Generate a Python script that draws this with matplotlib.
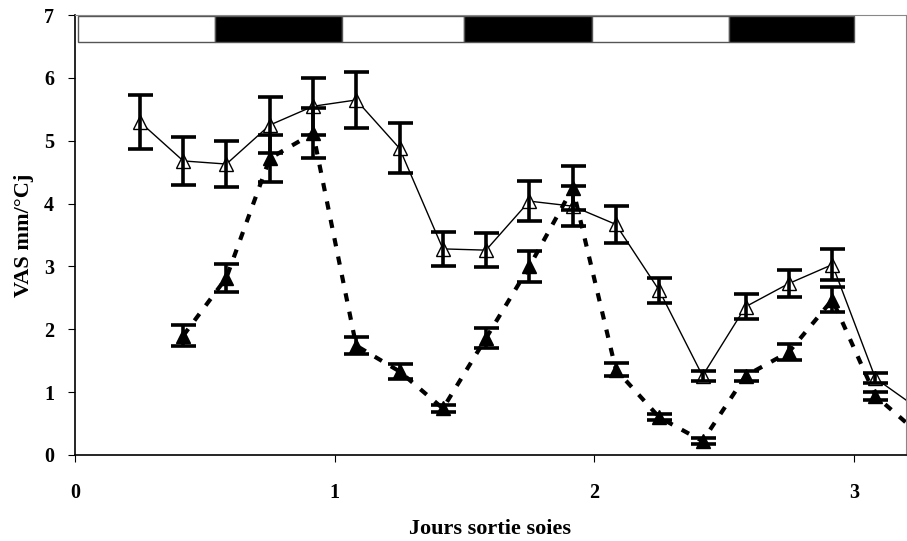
import numpy as np
import matplotlib.pyplot as plt
from matplotlib.patches import Rectangle

# days after silk emergence
jours = [0.25, 0.417, 0.583, 0.75, 0.917, 1.083, 1.25, 1.417, 1.583,
         1.75, 1.917, 2.083, 2.25, 2.417, 2.583, 2.75, 2.917, 3.083, 3.25]

# open triangles (solid line)
vas_open = [5.3, 4.68, 4.63, 5.25, 5.55, 5.65, 4.88, 3.28, 3.26,
            4.04, 3.96, 3.67, 2.62, 1.26, 2.36, 2.73, 3.03, 1.22, 0.73]
err_open = [0.43, 0.38, 0.37, 0.45, 0.45, 0.45, 0.4, 0.27, 0.27,
            0.32, 0.32, 0.3, 0.2, 0.08, 0.2, 0.21, 0.25, 0.08, 0.0]

# filled triangles (dashed line), starts at the second time
jours_fill = jours[1:]
vas_fill = [1.9, 2.82, 4.72, 5.12, 1.74, 1.33, 0.74, 1.86, 3.0,
            4.25, 1.36, 0.6, 0.22, 1.26, 1.64, 2.47, 0.94, 0.34]
err_fill = [0.17, 0.22, 0.38, 0.4, 0.13, 0.12, 0.05, 0.16, 0.24,
            0.35, 0.11, 0.05, 0.05, 0.08, 0.13, 0.2, 0.06, 0.0]

# day / night bar at top
periodes = [0.012, 0.54, 1.03, 1.5, 1.99, 2.52, 3.0]
couleurs = ["white", "black", "white", "black", "white", "black"]

plt.rcParams["font.family"] = ["Liberation Serif", "DejaVu Serif"]
plt.rcParams["font.weight"] = "bold"

fig = plt.figure(figsize=(9.07, 5.41), dpi=100)
ax = fig.add_axes([0.0827, 0.159, 0.916, 0.813])

# lines + markers
ax.plot(jours, vas_open, color="black", linewidth=1, marker="^",
        markersize=10, markerfacecolor="white", markeredgecolor="black",
        markeredgewidth=1, zorder=3)
ax.plot(jours_fill, vas_fill, color="black", linewidth=3,
        linestyle=(0, (2, 2.5)), marker="^", markersize=10,
        markerfacecolor="black", markeredgecolor="black", zorder=4)

# error bars
ax.errorbar(jours, vas_open, yerr=err_open, fmt="none", ecolor="black",
            elinewidth=2.6, capsize=9, capthick=2.6, zorder=3)
ax.errorbar(jours_fill, vas_fill, yerr=err_fill, fmt="none", ecolor="black",
            elinewidth=2.6, capsize=9, capthick=2.6, zorder=4)

for i in range(len(couleurs)):
    ax.add_patch(Rectangle((periodes[i], 6.57), periodes[i + 1] - periodes[i], 0.41,
                           facecolor=couleurs[i], edgecolor="#555555", lw=1,
                           zorder=2))

ax.set_xlim(0, 3.2)
ax.set_ylim(0, 7)
ax.set_xticks([0, 1, 2, 3])
ax.set_yticks(range(8))
ax.tick_params(axis="x", direction="out", length=5, pad=15, labelsize=14.5)
ax.tick_params(axis="y", direction="out", length=5, pad=10, labelsize=14.5)
ax.spines["top"].set_color("#888888")
ax.spines["right"].set_color("#888888")
ax.spines["left"].set_linewidth(1.2)
ax.spines["bottom"].set_linewidth(1.2)

ax.set_xlabel("Jours sortie soies", fontsize=16, fontweight="bold", labelpad=12)
ax.set_ylabel("VAS mm/°Cj", fontsize=16, fontweight="bold", labelpad=7)

plt.savefig("out.png", dpi=100)
